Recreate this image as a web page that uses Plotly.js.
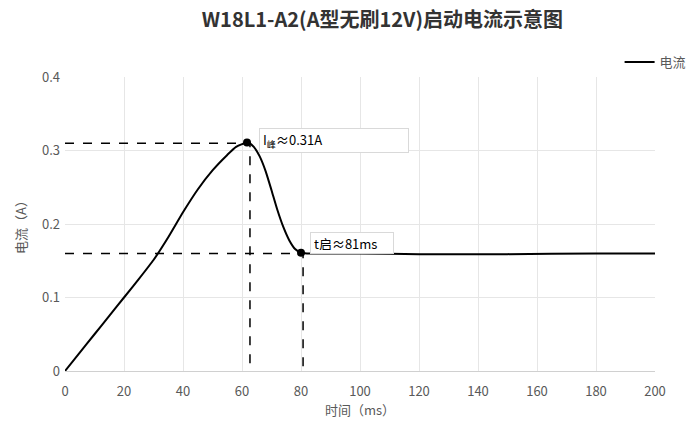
<!DOCTYPE html>
<html>
<head>
<meta charset="utf-8">
<script src="https://cdn.plot.ly/plotly-3.0.1.min.js"></script>
<style>html,body{margin:0;padding:0;background:#fff}#chart{width:700px;height:423px}</style>
</head>
<body>
<div id="chart"></div>
<script>
// Current curve (ms, A)
const timeMs = [0, 5, 10, 15, 20, 25, 30, 35, 40, 45, 50, 55, 58, 62, 64, 66, 68, 70, 72, 74, 76, 78, 80, 82, 90, 100, 120, 150, 180, 200];
const currentA = [0, 0.025, 0.050, 0.075, 0.100, 0.125, 0.151, 0.182, 0.216, 0.247, 0.273, 0.294, 0.305, 0.311, 0.305, 0.292, 0.272, 0.246, 0.219, 0.196, 0.178, 0.166, 0.161, 0.160, 0.160, 0.160, 0.159, 0.159, 0.160, 0.160];
// key points
const keyX = [61.7, 80];
const keyY = [0.311, 0.161];
// reference dashed guides
const peakGuideX = [0, 62.7, 62.7];
const peakGuideY = [0.31, 0.31, 0];
const startGuideX = [0, 80.7, 80.7];
const startGuideY = [0.16, 0.16, 0];
const xTicks = [0, 20, 40, 60, 80, 100, 120, 140, 160, 180, 200];
const yTicks = [0, 0.1, 0.2, 0.3, 0.4];
const yTickText = ['0', '0.1', '0.2', '0.3', '0.4'];

const font = '"Noto Sans CJK SC", "Noto Sans", sans-serif';
const traces = [
  {x: peakGuideX, y: peakGuideY, mode: 'lines', line: {color: '#000', width: 1.5, dash: 'dash'}, showlegend: false, hoverinfo: 'skip'},
  {x: startGuideX, y: startGuideY, mode: 'lines', line: {color: '#000', width: 1.5, dash: 'dash'}, showlegend: false, hoverinfo: 'skip'},
  {x: timeMs, y: currentA, mode: 'lines', name: '电流', line: {color: '#000', width: 2, shape: 'spline', smoothing: 0.5}},
  {x: keyX, y: keyY, mode: 'markers', marker: {color: '#000', size: 8}, showlegend: false}
];
const layout = {
  width: 700, height: 423,
  margin: {l: 65, r: 45, t: 77, b: 52, autoexpand: false},
  paper_bgcolor: '#fff', plot_bgcolor: '#fff',
  font: {family: font, color: '#595959', size: 13},
  title: {text: '<b>W18L1-A2(A型无刷12V)启动电流示意图</b>', x: 0.538, xanchor: 'center', xref: 'paper', yref: 'container', y: 0.952, yanchor: 'middle', font: {family: font, size: 20, color: '#333'}},
  xaxis: {range: [0, 200], tickvals: xTicks, ticktext: xTicks.map(String), showgrid: true, gridcolor: '#e6e6e6', zeroline: false, showline: true, linecolor: '#d0d0d0', ticks: '', ticklen: 0, ticklabelstandoff: 8, automargin: false,
    title: {text: '时间（ms）', font: {family: font, size: 13, color: '#595959'}, standoff: 4}},
  yaxis: {range: [0, 0.4], tickvals: yTicks, ticktext: yTickText, showgrid: true, gridcolor: '#e6e6e6', zeroline: false, showline: false, ticks: '', ticklabelstandoff: 4, automargin: false,
    title: {text: '电流（A）', font: {family: font, size: 13, color: '#595959'}, standoff: 12}},
  showlegend: true,
  legend: {x: 0.94, xanchor: 'left', y: 1.051, yanchor: 'middle', itemwidth: 30, font: {family: font, size: 13, color: '#595959'}, bgcolor: 'rgba(0,0,0,0)'},
  annotations: [
    {x: 65.6, y: 0.314, xref: 'x', yref: 'y', xanchor: 'left', yanchor: 'middle', showarrow: false, align: 'left',
     text: 'I<sub>峰</sub>≈0.31A', width: 142, height: 17, bordercolor: '#d9d9d9', borderwidth: 1, borderpad: 3, bgcolor: '#fff', font: {family: font, size: 13, color: '#000'}},
    {x: 83, y: 0.1735, xref: 'x', yref: 'y', xanchor: 'left', yanchor: 'middle', showarrow: false, align: 'left',
     text: 't启≈81ms', width: 76, height: 14, bordercolor: '#d9d9d9', borderwidth: 1, borderpad: 3, bgcolor: '#fff', font: {family: font, size: 13, color: '#000'}}
  ]
};
Plotly.newPlot('chart', traces, layout, {displayModeBar: false, staticPlot: true});
</script>
</body>
</html>
